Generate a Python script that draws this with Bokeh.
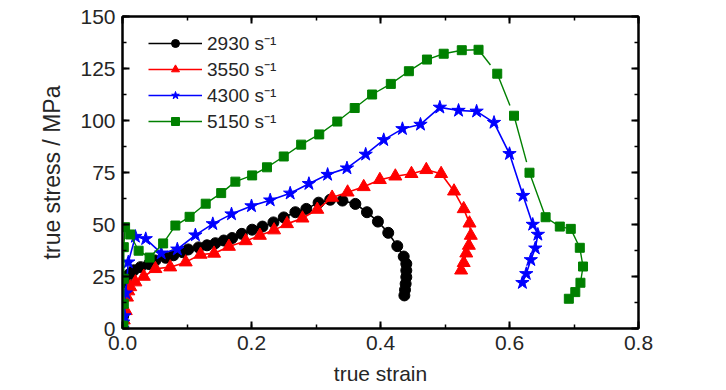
import math
from bokeh.plotting import figure
from bokeh.models import (LinearAxis, SingleIntervalTicker, Range1d, Legend, LegendItem,
                          PrintfTickFormatter, CustomJSTickFormatter)
from bokeh.embed import file_html
from bokeh.resources import INLINE

# ---- data (true strain, true stress / MPa) ----
labels = ["2930 s\u207b\u00b9", "3550 s\u207b\u00b9", "4300 s\u207b\u00b9", "5150 s\u207b\u00b9"]

strain_2930 = [0.000, 0.001, 0.003, 0.006, 0.010, 0.0175, 0.028, 0.041, 0.051, 0.067, 0.079, 0.093,
               0.102, 0.118, 0.131, 0.144, 0.157, 0.170, 0.185, 0.201, 0.217, 0.234, 0.250, 0.268,
               0.285, 0.304, 0.322, 0.341, 0.361, 0.379, 0.396, 0.412, 0.426, 0.436, 0.440, 0.440,
               0.440, 0.439, 0.438, 0.437]
stress_2930 = [0, 6, 15, 22, 26, 28, 29.5, 31, 32.7, 34, 35.2, 36.7,
               38, 39, 40, 41, 42.3, 43.5, 45.5, 47.5, 49, 51, 53.4, 55.9,
               57.5, 60.5, 61.9, 61.5, 59.9, 55.9, 51.4, 46, 39.6, 34.6, 31.1, 27.9,
               24.7, 21.5, 18.6, 15.9]

strain_3550 = [0.000, 0.002, 0.005, 0.007, 0.009, 0.012, 0.020, 0.033, 0.051, 0.074, 0.098, 0.121,
               0.142, 0.165, 0.191, 0.213, 0.235, 0.255, 0.279, 0.302, 0.325, 0.349, 0.374, 0.399,
               0.423, 0.448, 0.471, 0.494, 0.514, 0.529, 0.538, 0.540, 0.537, 0.533, 0.529, 0.525]
stress_3550 = [0, 4, 8.5, 15, 18, 20, 22.3, 25, 28.7, 29.5, 31.9, 35.6,
               36.1, 39.4, 42.1, 44.7, 47.3, 50.3, 53, 57.2, 63, 65.5, 68.1, 71.5,
               73.2, 74.4, 76.3, 74.4, 66, 57.5, 50.6, 44.7, 39.9, 36.2, 31.6, 28]

strain_4300 = [0.000, 0.001, 0.003, 0.005, 0.009, 0.020, 0.036, 0.060, 0.085, 0.113, 0.140, 0.169,
               0.200, 0.229, 0.260, 0.289, 0.318, 0.348, 0.377, 0.405, 0.434, 0.462, 0.492, 0.521,
               0.549, 0.576, 0.600, 0.621, 0.636, 0.644, 0.640, 0.633, 0.626, 0.620]
stress_4300 = [0, 3, 6, 17, 31.9, 44.2, 43.1, 36.2, 38.1, 44.9, 50.3, 55,
               58.9, 61.7, 65, 69.6, 74, 77.1, 83.7, 90.7, 96, 98.1, 106.3, 104.8,
               104.4, 99, 84, 63.9, 50, 45.2, 38.6, 33, 26.3, 22]

strain_5150 = [0.0015, 0.002, 0.002, 0.002, 0.004, 0.012, 0.025, 0.042, 0.063, 0.082, 0.104, 0.129,
               0.153, 0.175, 0.201, 0.224, 0.250, 0.277, 0.305, 0.333, 0.360, 0.387, 0.416, 0.444,
               0.472, 0.498, 0.526, 0.552, 0.581, 0.607, 0.631, 0.656, 0.678, 0.695, 0.709, 0.714,
               0.710, 0.702, 0.692]
stress_5150 = [1.4, 11.9, 23.9, 39.1, 48.7, 45.2, 37.4, 34.1, 40.9, 49.5, 53.7, 60,
               65.1, 70.6, 73.6, 77.5, 82.7, 88.4, 93.3, 99.5, 106, 112.5, 117.6, 123.7,
               129.3, 132.1, 133.8, 134, 122.5, 102.3, 74.9, 53.5, 49, 47.9, 38.8, 29.8,
               22, 17.5, 14.3]

x_ticks_interval = 0.2
y_ticks_interval = 25

# ---- figure ----
W, H = 724, 390
FL, FT, FR, FB = 122, 16, 638, 328
X0, X1, Y0, Y1 = 0, 0.8, 0, 150
FW, FH = FR - FL, FB - FT
p = figure(width=W, height=H, output_backend="svg", toolbar_location=None,
           x_range=Range1d(X0, X1), y_range=Range1d(Y0, Y1),
           min_border_left=FL, min_border_right=W - FR, min_border_top=FT, min_border_bottom=H - FB,
           background_fill_color="white", border_fill_color="white")
p.grid.visible = False
p.outline_line_color = "black"
p.outline_line_width = 2

FONT = "Liberation Sans"
TEXT_COL = "#262626"


def style_axis(ax, labels_on=True):
    ax.axis_line_width = 2
    ax.major_tick_line_width = 2
    ax.minor_tick_line_width = 1.5
    ax.major_tick_in = 7
    ax.major_tick_out = 0
    ax.minor_tick_in = 4
    ax.minor_tick_out = 0
    ax.major_label_text_font = FONT
    ax.major_label_text_font_size = "21px"
    ax.major_label_text_color = TEXT_COL
    if not labels_on:
        ax.formatter = CustomJSTickFormatter(code="return ''")
        ax.major_label_standoff = 0


xb = p.xaxis[0]
xb.ticker = SingleIntervalTicker(interval=x_ticks_interval, num_minor_ticks=2)
xb.formatter = PrintfTickFormatter(format="%.1f")
style_axis(xb)
xb.major_label_standoff = 7
xb.axis_label = "true strain"
xb.axis_label_text_font = FONT
xb.axis_label_text_font_size = "21px"
xb.axis_label_text_font_style = "normal"
xb.axis_label_text_color = TEXT_COL
xb.axis_label_standoff = 9

yl = p.yaxis[0]
yl.ticker = SingleIntervalTicker(interval=y_ticks_interval, num_minor_ticks=2)
style_axis(yl)
yl.major_label_standoff = 7
yl.axis_label = "true stress / MPa"
yl.axis_label_text_font = FONT
yl.axis_label_text_font_size = "23px"
yl.axis_label_text_font_style = "normal"
yl.axis_label_text_color = TEXT_COL
yl.axis_label_standoff = 12

xt = LinearAxis(ticker=SingleIntervalTicker(interval=x_ticks_interval, num_minor_ticks=2))
style_axis(xt, labels_on=False)
p.add_layout(xt, "above")
yr = LinearAxis(ticker=SingleIntervalTicker(interval=y_ticks_interval, num_minor_ticks=2))
style_axis(yr, labels_on=False)
p.add_layout(yr, "right")

# ---- series ----
LW = 1.6
items = []

l1 = p.line(strain_2930, stress_2930, line_color="black", line_width=LW)
s1 = p.scatter(strain_2930, stress_2930, marker="circle", size=11, fill_color="black", line_color="black")
items.append(LegendItem(label=labels[0], renderers=[l1, s1]))

l2 = p.line(strain_3550, stress_3550, line_color="#ff0000", line_width=LW)
s2 = p.scatter(strain_3550, stress_3550, marker="triangle", size=13, fill_color="#ff0000", line_color="#ff0000")
items.append(LegendItem(label=labels[1], renderers=[l2, s2]))

l3 = p.line(strain_4300, stress_4300, line_color="#0000ff", line_width=LW)
s3 = p.scatter(strain_4300, stress_4300, marker="star", size=14, fill_color="#0000ff", line_color="#0000ff")
items.append(LegendItem(label=labels[2], renderers=[l3, s3]))

# green: solid up to the peak, then gapped segments on the steep descent, then solid again
GREEN = "#008000"
ipk = stress_5150.index(max(stress_5150))
iend = ipk + 3
l4 = p.line(strain_5150[:ipk + 1], stress_5150[:ipk + 1], line_color=GREEN, line_width=1.4)
p.line(strain_5150[iend:], stress_5150[iend:], line_color=GREEN, line_width=1.4)
sx = FW / (X1 - X0)
sy = FH / (Y1 - Y0)
x0s, y0s, x1s, y1s = [], [], [], []
for i in range(ipk, iend):
    ax_, ay_ = strain_5150[i], stress_5150[i]
    bx_, by_ = strain_5150[i + 1], stress_5150[i + 1]
    L = math.hypot((bx_ - ax_) * sx, (by_ - ay_) * sy)
    t = 11.0 / L
    x0s.append(ax_)
    y0s.append(ay_)
    x1s.append(bx_ - (bx_ - ax_) * t)
    y1s.append(by_ - (by_ - ay_) * t)
p.segment(x0s, y0s, x1s, y1s, line_color=GREEN, line_width=1.4)
s4 = p.scatter(strain_5150, stress_5150, marker="square", size=9, fill_color=GREEN, line_color=GREEN)
items.append(LegendItem(label=labels[3], renderers=[l4, s4]))

legend = Legend(items=items, location=(26, 194), padding=0, margin=0, spacing=0,
                glyph_width=54, glyph_height=20, label_height=20, label_standoff=5,
                label_text_font=FONT, label_text_font_size="19px",
                label_text_color=TEXT_COL, border_line_alpha=0, background_fill_alpha=0)
p.add_layout(legend)

open("out.html", "w").write(file_html(p, INLINE))
